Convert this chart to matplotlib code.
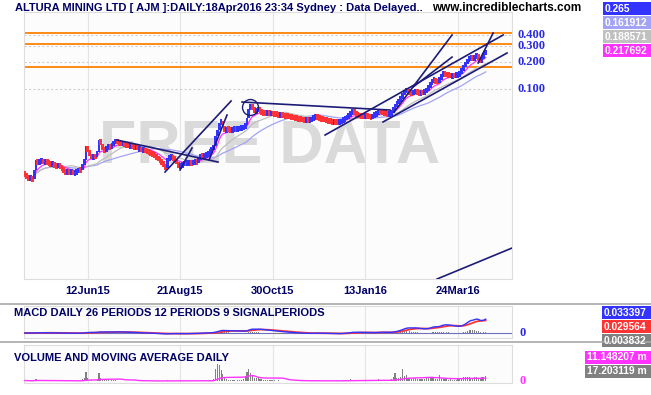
import numpy as np
import pandas as pd
import matplotlib
matplotlib.use("Agg")
import matplotlib.pyplot as plt
from matplotlib.patches import Rectangle
from matplotlib.ticker import NullLocator

plt.rcParams['font.family'] = ['Liberation Sans', 'DejaVu Sans']

W, H = 651, 395

# daily closes, 24Apr2015 .. 18Apr2016 (250 trading days)
closes = [
    0.0110, 0.0104, 0.0100, 0.0102, 0.0098, 0.0125, 0.0160, 0.0150, 0.0155, 0.0160,
    0.0152, 0.0158, 0.0150, 0.0148, 0.0145, 0.0147, 0.0140, 0.0138, 0.0142, 0.0136,
    0.0130, 0.0120, 0.0118, 0.0120, 0.0117, 0.0119, 0.0115, 0.0118, 0.0122, 0.0125,
    0.0124, 0.0145, 0.0160, 0.0230, 0.0200, 0.0185, 0.0170, 0.0178, 0.0175, 0.0200,
    0.0270, 0.0240, 0.0215, 0.0205, 0.0225, 0.0230, 0.0225, 0.0240, 0.0255, 0.0265,
    0.0255, 0.0250, 0.0245, 0.0248, 0.0240, 0.0238, 0.0232, 0.0235, 0.0228, 0.0225,
    0.0230, 0.0215, 0.0218, 0.0205, 0.0210, 0.0203, 0.0200, 0.0198, 0.0192, 0.0188,
    0.0180, 0.0172, 0.0165, 0.0158, 0.0150, 0.0140, 0.0130, 0.0170, 0.0172, 0.0175,
    0.0168, 0.0162, 0.0150, 0.0135, 0.0140, 0.0145, 0.0150, 0.0148, 0.0150, 0.0152,
    0.0150, 0.0153, 0.0155, 0.0152, 0.0170, 0.0180, 0.0175, 0.0182, 0.0185, 0.0190,
    0.0205, 0.0215, 0.0230, 0.0300, 0.0350, 0.0420, 0.0440, 0.0380, 0.0340, 0.0360,
    0.0355, 0.0345, 0.0355, 0.0360, 0.0358, 0.0362, 0.0365, 0.0370, 0.0375, 0.0400,
    0.0480, 0.0600, 0.0650, 0.0620, 0.0560, 0.0580, 0.0600, 0.0560, 0.0545, 0.0540,
    0.0535, 0.0540, 0.0530, 0.0535, 0.0530, 0.0525, 0.0520, 0.0515, 0.0520, 0.0510,
    0.0505, 0.0500, 0.0495, 0.0490, 0.0485, 0.0480, 0.0475, 0.0470, 0.0465, 0.0460,
    0.0455, 0.0450, 0.0455, 0.0445, 0.0450, 0.0465, 0.0485, 0.0490, 0.0480, 0.0470,
    0.0465, 0.0460, 0.0455, 0.0445, 0.0440, 0.0435, 0.0430, 0.0432, 0.0428, 0.0425,
    0.0430, 0.0440, 0.0460, 0.0475, 0.0490, 0.0510, 0.0540, 0.0570, 0.0530, 0.0520,
    0.0510, 0.0505, 0.0500, 0.0498, 0.0500, 0.0495, 0.0490, 0.0485, 0.0505, 0.0520,
    0.0540, 0.0570, 0.0555, 0.0545, 0.0540, 0.0530, 0.0525, 0.0530, 0.0560, 0.0600,
    0.0650, 0.0700, 0.0750, 0.0800, 0.0880, 0.0950, 0.0980, 0.0940, 0.0920, 0.0900,
    0.0930, 0.0950, 0.0920, 0.0900, 0.0920, 0.0910, 0.0930, 0.1000, 0.1050, 0.1150,
    0.1250, 0.1260, 0.1220, 0.1200, 0.1300, 0.1450, 0.1500, 0.1460, 0.1450, 0.1430,
    0.1400, 0.1420, 0.1410, 0.1430, 0.1450, 0.1500, 0.1650, 0.1800, 0.1950, 0.2100,
    0.2200, 0.2250, 0.2150, 0.2300, 0.2350, 0.2200, 0.2050, 0.2200, 0.2450, 0.2650,
]

# daily volume, millions of shares
volumes = [
    2.0, 1.5, 0.8, 1.0, 0.5, 4.0, 6.0, 3.0, 2.0, 1.5,
    1.0, 2.5, 0.8, 0.6, 1.2, 0.5, 0.8, 0.4, 1.5, 0.6,
    0.5, 2.0, 1.0, 0.5, 0.3, 0.6, 0.4, 0.8, 1.0, 1.2,
    2.0, 8.0, 12.0, 33.0, 10.0, 5.0, 3.0, 2.0, 1.5, 6.0,
    30.0, 12.0, 6.0, 4.0, 5.0, 3.0, 2.0, 2.5, 3.0, 4.0,
    2.0, 1.5, 1.0, 1.2, 0.8, 0.6, 0.5, 0.7, 0.4, 0.5,
    0.6, 0.8, 0.3, 0.5, 0.4, 0.3, 0.5, 0.3, 0.4, 0.6,
    0.8, 1.0, 0.6, 0.8, 1.0, 1.5, 2.0, 2.5, 1.0, 0.8,
    0.6, 0.5, 1.2, 1.5, 0.8, 0.6, 0.5, 0.4, 0.3, 0.5,
    0.4, 0.3, 0.5, 0.4, 2.0, 3.0, 1.0, 1.5, 2.0, 1.0,
    3.0, 5.0, 8.0, 45.0, 63.0, 60.0, 40.0, 25.0, 12.0, 8.0,
    5.0, 4.0, 3.0, 3.5, 2.0, 2.5, 3.0, 4.0, 6.0, 20.0,
    35.0, 44.0, 30.0, 18.0, 10.0, 12.0, 15.0, 8.0, 6.0, 5.0,
    4.0, 5.0, 3.0, 4.0, 3.0, 2.5, 2.0, 3.0, 2.0, 1.5,
    1.5, 1.0, 1.2, 0.8, 1.0, 0.6, 0.8, 0.5, 0.7, 0.6,
    0.5, 0.4, 0.6, 0.5, 0.8, 2.0, 4.0, 2.5, 1.5, 1.0,
    0.8, 0.6, 0.5, 0.4, 0.6, 0.5, 0.4, 0.3, 0.5, 0.4,
    1.0, 2.0, 3.0, 4.0, 3.0, 5.0, 6.0, 5.0, 3.0, 2.0,
    1.5, 1.0, 1.2, 0.8, 1.0, 0.6, 0.8, 0.5, 3.0, 4.0,
    5.0, 6.0, 3.0, 2.5, 2.0, 1.5, 2.0, 3.0, 8.0, 14.0,
    30.0, 12.0, 10.0, 16.0, 44.0, 20.0, 22.0, 10.0, 12.0, 8.0,
    10.0, 12.0, 7.0, 6.0, 8.0, 6.0, 7.0, 12.0, 10.0, 14.0,
    16.0, 10.0, 8.0, 6.0, 22.0, 12.0, 10.0, 8.0, 6.0, 5.0,
    6.0, 5.0, 4.0, 5.0, 6.0, 8.0, 12.0, 14.0, 16.0, 15.0,
    14.0, 13.0, 12.0, 15.0, 14.0, 13.0, 12.0, 14.0, 16.0, 17.2,
]

tick_idx = [34, 84, 134, 184, 234]
tick_labels = ['12Jun15', '21Aug15', '30Oct15', '13Jan16', '24Mar16']

price_levels = [0.1, 0.2, 0.3, 0.4]
price_level_labels = ['0.100', '0.200', '0.300', '0.400']
orange_levels = [0.421, 0.318, 0.176]

# hand drawn trend lines: (bar index, price) pairs
trend_lines = [
    [(49.7, 0.0270), (104.3, 0.01535)],
    [(75.7, 0.01188), (111.4, 0.0735)],
    [(83.8, 0.0125), (90.3, 0.0220)],
    [(99.5, 0.01616), (109.2, 0.0513)],
    [(117.3, 0.0716), (197.3, 0.0583)],
    [(162.2, 0.0307), (258.4, 0.400)],
    [(193.5, 0.0429), (260.5, 0.252)],
    [(199.5, 0.0554), (230.8, 0.400)],
    [(209.7, 0.105), (230.8, 0.227)],
    [(244.9, 0.195), (253.0, 0.421)],
    [(222.7, 0.000762), (263.2, 0.001687)],
]
circle_at = (121.6, 0.063)

main_boxes = [('0.265', '#3333FF'), ('0.161912', '#A3A3F5'),
              ('0.188571', '#C0C0C0'), ('0.217692', '#FF33FF')]
macd_boxes = [('0.033397', '#3333FF'), ('0.029564', '#FF3333'), ('0.003832', '#808080')]
vol_boxes = [('11.148207 m', '#FF33FF'), ('17.203119 m', '#808080')]

NAVY = '#000066'
LINE = '#1C1C78'

close = pd.Series(closes)
opens = close.shift(1).fillna(close.iloc[0] * 1.04)
idx = np.arange(len(close))
ma_fast = close.ewm(span=10).mean()
ma_mid = close.rolling(21, min_periods=1).mean()
ma_slow = close.rolling(40, min_periods=1).mean()
macd = close.ewm(span=12).mean() - close.ewm(span=26).mean()
signal = macd.ewm(span=9).mean()
hist = macd - signal
vol = pd.Series(volumes)
vol_ma = vol.rolling(21, min_periods=1).mean()


def fx(x):
    return x / W


def fy(y):
    return 1 - y / H


fig = plt.figure(figsize=(W / 100, H / 100), dpi=100)
fig.patch.set_facecolor('white')

x0, x1 = 24, 512
xlim = (-0.5, 263.2)


def make_ax(top, bottom):
    ax = fig.add_axes([fx(x0), fy(bottom), (x1 - x0) / W, (bottom - top) / H])
    ax.set_facecolor('#FCFCFC')
    ax.set_xlim(*xlim)
    for s in ax.spines.values():
        s.set_color('#DDDDDD')
        s.set_linewidth(0.8)
    ax.set_xticks(tick_idx)
    ax.tick_params(length=0, labelbottom=False, labelleft=False)
    ax.yaxis.set_major_locator(NullLocator())
    ax.yaxis.set_minor_locator(NullLocator())
    ax.grid(axis='x', color='#E4E4E4', lw=0.8)
    ax.set_axisbelow(True)
    return ax


# ---- main price panel ----
ax = make_ax(12, 279)
ax.set_yscale('log')
ax.set_ylim(0.000762, 0.722)
ax.yaxis.set_major_locator(NullLocator())
ax.yaxis.set_minor_locator(NullLocator())
ax.tick_params(labelbottom=True, pad=5)
ax.set_xticklabels(tick_labels, fontsize=8, fontweight='bold', color=NAVY)

ax.text(0.504, 0.4345, 'FREE DATA', transform=ax.transAxes, fontsize=44,
        fontweight='bold', color='#DADADA', ha='center', va='baseline', zorder=0.5)

for lv in price_levels:
    ax.axhline(lv, color='#CFCFCF', lw=0.8, ls=(0, (2, 2)), zorder=0.6)
for lv, lab in zip(price_levels, price_level_labels):
    ax.text(1.012, lv, lab, transform=ax.get_yaxis_transform(), fontsize=9,
            fontweight='bold', family='Liberation Serif', color='#2B2BE0', va='center')
for lv in orange_levels:
    ax.axhline(lv, color='#FF8000', lw=1.3, zorder=1)

ax.plot(idx, ma_slow, color='#A3A3F5', lw=0.9, zorder=2)
ax.plot(idx, ma_mid, color='#BEBEBE', lw=0.9, zorder=2)
ax.plot(idx, ma_fast, color='#FF33FF', lw=0.9, zorder=2.1)

lo = np.minimum(opens, close)
hi = np.maximum(opens, close)
mid = np.sqrt(lo * hi)
ratio = np.maximum(hi / lo, 1.16)
bot = mid / np.sqrt(ratio)
top = mid * np.sqrt(ratio)
colors = np.where(close >= opens, '#3333FF', '#FF3333')
ax.bar(idx, top - bot, bottom=bot, width=1.5, color=colors, zorder=3)

for seg in trend_lines:
    xs, ys = zip(*seg)
    ax.plot(xs, ys, color=LINE, lw=1.2, zorder=4)
ax.plot(*circle_at, marker='o', ms=11.5, mfc='none', mec=LINE, mew=1.0, zorder=4)

# ---- MACD panel ----
axm = make_ax(306, 338)
axm.set_ylim(-0.0111, 0.0601)
axm.axhline(0, color='#7070C0', lw=0.8)
axm.bar(idx, hist, width=0.5, color='#808080', zorder=2)
axm.plot(idx, signal, color='#FF3333', lw=1.3, zorder=3)
axm.plot(idx, macd, color='#3333FF', lw=1.0, zorder=4)
axm.text(1.016, 0, '0', transform=axm.get_yaxis_transform(), fontsize=9,
         fontweight='bold', family='Liberation Serif', color='#2B2BE0', va='center')

# ---- volume panel ----
axv = make_ax(345, 383)
axv.set_ylim(-7, 133)
axv.bar(idx, vol, width=0.6, color='#808080', zorder=2)
axv.plot(idx, vol_ma, color='#FF33FF', lw=1.0, zorder=3)
axv.text(1.016, 0, '0', transform=axv.get_yaxis_transform(), fontsize=9,
         fontweight='bold', family='Liberation Serif', color='#FF33FF', va='center')

# ---- texts, separators, value boxes ----
fig.text(fx(15), fy(8), 'ALTURA MINING LTD [ AJM ]:DAILY:18Apr2016 23:34 Sydney : Data Delayed..',
         fontsize=8, fontweight='bold', color=NAVY, va='center')
fig.text(fx(432), fy(8), 'www.incrediblecharts.com', fontsize=8.5, fontweight='bold',
         color='black', va='center')
fig.text(fx(14), fy(313), 'MACD DAILY 26 PERIODS 12 PERIODS 9 SIGNALPERIODS',
         fontsize=8, fontweight='bold', color=NAVY, va='center')
fig.text(fx(14), fy(358), 'VOLUME AND MOVING AVERAGE DAILY',
         fontsize=8, fontweight='bold', color=NAVY, va='center')

for yy in (304, 342):
    fig.add_artist(plt.Line2D([0, 1], [fy(yy), fy(yy)], color='#A8A8A8', lw=1.2,
                              transform=fig.transFigure))


def boxes(items, left, top0, h=13, gap=1):
    for k, (txt, col) in enumerate(items):
        t = top0 + k * (h + gap)
        fig.add_artist(Rectangle((fx(left), fy(t + h)), (W - left) / W, h / H,
                                 transform=fig.transFigure, facecolor=col, edgecolor='none'))
        fig.text(fx(left + 2), fy(t + h / 2), txt, fontsize=7.4, fontweight='bold',
                 color='white', va='center')


boxes(main_boxes, 603, 2)
boxes(macd_boxes, 602, 306)
boxes(vol_boxes, 585, 351)

fig.savefig('out.png', dpi=100)
